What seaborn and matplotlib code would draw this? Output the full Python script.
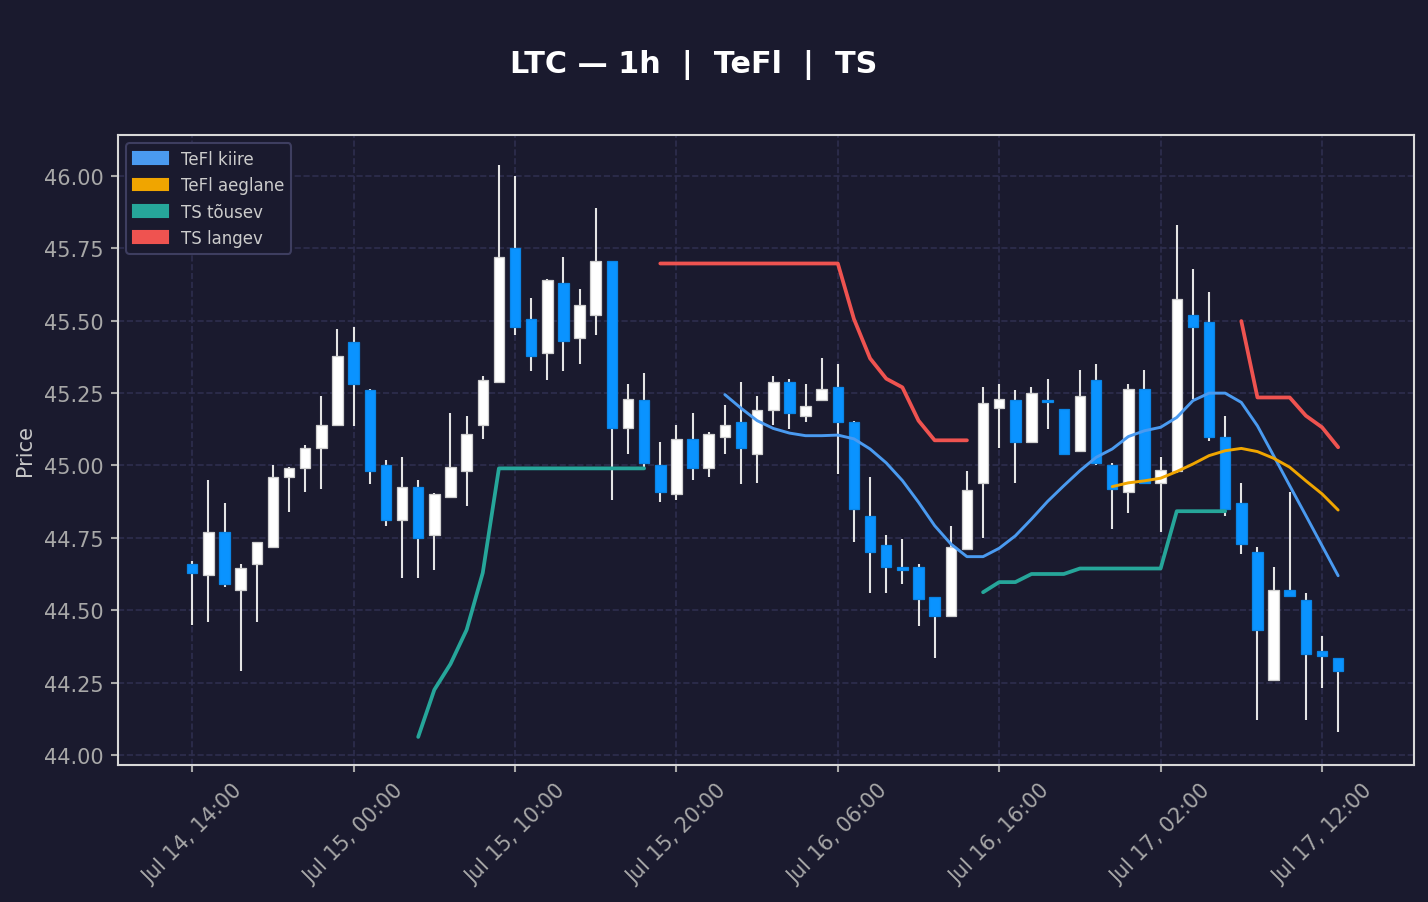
import numpy as np
import pandas as pd
import seaborn as sns
import matplotlib
matplotlib.use("Agg")
import matplotlib.pyplot as plt
from matplotlib.patches import Patch

nan = np.nan

# tunnised küünlad, LTC 1h
times = pd.date_range("2024-07-14 14:00", periods=72, freq="h")

opens = [44.66, 44.62, 44.77, 44.57, 44.66, 44.72, 44.96, 44.99, 45.06, 45.14,
         45.425, 45.26, 45.00, 44.81, 44.925, 44.76, 44.89, 44.98, 45.14, 45.29,
         45.75, 45.505, 45.39, 45.63, 45.44, 45.52, 45.705, 45.13, 45.225, 45.00,
         44.90, 45.09, 44.99, 45.10, 45.15, 45.04, 45.19, 45.29, 45.17, 45.228,
         45.27, 45.15, 44.825, 44.725, 44.65, 44.65, 44.545, 44.48, 44.71, 44.94,
         45.20, 45.225, 45.08, 45.225, 45.195, 45.05, 45.295, 45.00, 44.91, 45.263,
         44.94, 44.98, 45.52, 45.495, 45.10, 44.87, 44.70, 44.26, 44.57, 44.535,
         44.36, 44.335]
highs = [44.67, 44.95, 44.87, 44.66, 44.735, 45.00, 44.995, 45.07, 45.24, 45.47,
         45.48, 45.265, 45.02, 45.03, 44.95, 44.905, 45.18, 45.17, 45.31, 46.04,
         46.00, 45.58, 45.645, 45.72, 45.61, 45.89, 45.705, 45.28, 45.32, 45.08,
         45.14, 45.18, 45.115, 45.21, 45.29, 45.24, 45.31, 45.30, 45.28, 45.37,
         45.35, 45.155, 44.96, 44.76, 44.745, 44.66, 44.545, 44.79, 44.98, 45.27,
         45.28, 45.26, 45.27, 45.30, 45.195, 45.33, 45.35, 45.01, 45.28, 45.33,
         45.03, 45.83, 45.68, 45.60, 45.17, 44.94, 44.72, 44.65, 44.91, 44.56,
         44.41, 44.335]
lows = [44.45, 44.46, 44.58, 44.29, 44.46, 44.715, 44.84, 44.91, 44.92, 45.135,
        45.135, 44.935, 44.79, 44.61, 44.61, 44.64, 44.89, 44.86, 45.09, 45.285,
        45.45, 45.325, 45.295, 45.325, 45.35, 45.45, 44.88, 45.04, 44.995, 44.875,
        44.88, 44.95, 44.96, 45.04, 44.935, 44.94, 45.14, 45.125, 45.15, 45.224,
        44.97, 44.735, 44.56, 44.56, 44.59, 44.445, 44.335, 44.475, 44.71, 44.75,
        45.06, 44.94, 45.08, 45.125, 45.035, 45.05, 45.00, 44.78, 44.835, 44.94,
        44.77, 44.975, 45.23, 45.085, 44.825, 44.695, 44.12, 44.255, 44.545, 44.12,
        44.23, 44.08]
closes = [44.63, 44.77, 44.59, 44.645, 44.735, 44.96, 44.99, 45.06, 45.14, 45.38,
          45.28, 44.98, 44.81, 44.925, 44.75, 44.90, 44.995, 45.11, 45.295, 45.72,
          45.48, 45.38, 45.64, 45.43, 45.555, 45.705, 45.13, 45.23, 45.01, 44.91,
          45.09, 44.99, 45.11, 45.14, 45.06, 45.19, 45.29, 45.18, 45.205, 45.263,
          45.15, 44.85, 44.70, 44.65, 44.64, 44.54, 44.48, 44.72, 44.915, 45.215,
          45.23, 45.08, 45.25, 45.22, 45.04, 45.24, 45.01, 44.92, 45.263, 44.94,
          44.983, 45.574, 45.48, 45.10, 44.85, 44.73, 44.43, 44.57, 44.55, 44.35,
          44.34, 44.29]

# indikaatorid (nan = puudub)
tefl_kiire = [nan] * 33 + [
    45.245, 45.198, 45.155, 45.128, 45.112, 45.103, 45.103, 45.105, 45.092, 45.057,
    45.009, 44.948, 44.873, 44.792, 44.729, 44.685, 44.685, 44.714, 44.757, 44.815,
    44.876, 44.930, 44.982, 45.028, 45.057, 45.100, 45.120, 45.132, 45.166, 45.224,
    45.250, 45.250, 45.218, 45.137, 45.034, 44.930, 44.827, 44.723, 44.619]
tefl_aeglane = [nan] * 57 + [
    44.927, 44.940, 44.947, 44.956, 44.979, 45.005, 45.034, 45.051, 45.059, 45.048,
    45.025, 44.994, 44.947, 44.902, 44.846]
ts_tousev = [nan] * 14 + [44.062, 44.225, 44.314, 44.432, 44.629] + [44.99] * 10 \
    + [nan] * 20 + [44.562, 44.597, 44.597, 44.625, 44.625, 44.625, 44.644, 44.644,
                    44.644, 44.644, 44.644, 44.644, 44.842, 44.842, 44.842, 44.842] \
    + [nan] * 7
ts_langev = [nan] * 29 + [45.698] * 12 + [45.506, 45.37, 45.30, 45.27, 45.155,
                                          45.087, 45.087, 45.087] \
    + [nan] * 16 + [45.499, 45.235, 45.235, 45.235, 45.172, 45.132, 45.063]

bg = "#1a1a2e"
up_col = "#ffffff"
down_col = "#0a93ff"

sns.set_theme(style="dark", rc={"axes.facecolor": bg, "figure.facecolor": bg})
plt.rcParams['font.family'] = ['DejaVu Sans']

fig = plt.figure(figsize=(9.52, 6.02), dpi=150, facecolor=bg)
ax = fig.add_axes([118 / 1428, 1 - 766 / 903, (1414 - 118) / 1428, (766 - 136) / 903])
ax.set_facecolor(bg)

x = np.arange(len(times))
o = np.array(opens)
c = np.array(closes)
up = c >= o

# küünlad
ax.vlines(x, lows, highs, color="#e4e4e4", lw=1.0, zorder=2)
ax.bar(x, np.abs(c - o), bottom=np.minimum(o, c), width=0.65,
       color=np.where(up, up_col, down_col),
       edgecolor=np.where(up, "#cfcfcf", "#0a85e6"), lw=0.6, zorder=3)

# jooned seaborniga, lõigud eraldi
series = [
    ("TeFl kiire", tefl_kiire, "#4a9af0", 1.4),
    ("TeFl aeglane", tefl_aeglane, "#f0a500", 1.4),
    ("TS tõusev", ts_tousev, "#26a69a", 1.8),
    ("TS langev", ts_langev, "#ef5350", 1.8),
]
handles = []
for name, vals, col, lw in series:
    v = np.array(vals, dtype=float)
    seg = np.cumsum(np.isnan(v))
    df = pd.DataFrame({"x": x, "price": v, "seg": seg}).dropna()
    sns.lineplot(data=df, x="x", y="price", units="seg", estimator=None,
                 color=col, lw=lw, ax=ax, zorder=4)
    handles.append(Patch(facecolor=col, edgecolor=col, label=name))

ax.set_xlim(-4.6, 75.7)
ax.set_ylim(43.965, 46.142)
ax.set_xticks(x[::10])
ax.set_xticklabels(times[::10].strftime("%b %d, %H:%M"), rotation=45, ha="center")
ax.set_yticks(np.arange(44.0, 46.01, 0.25))
ax.set_yticklabels([f"{t:.2f}" for t in np.arange(44.0, 46.01, 0.25)])
ax.tick_params(axis="both", colors="#a8a8a8", labelsize=10, length=3.5, width=1,
               bottom=True, left=True)
ax.set_xlabel("")
ax.set_ylabel("Price", color="#c8c8c8", fontsize=10)
ax.grid(True, color="#2e2e4e", ls="--", lw=0.8)
for s in ax.spines.values():
    s.set_visible(True)
    s.set_color("#d8d8d8")
    s.set_linewidth(1.0)

leg = ax.legend(handles=handles, loc="upper left", fontsize=8, facecolor=bg,
                edgecolor="#3e3e60", framealpha=1, handlelength=2.1,
                borderaxespad=0.5)
for t in leg.get_texts():
    t.set_color("#cccccc")

fig.text(694 / 1428, 1 - 72.5 / 903, "LTC — 1h  |  TeFl  |  TS", color="white",
         fontsize=14.5, fontweight="bold", ha="center", va="baseline")

fig.savefig("out.png", dpi=150, facecolor=bg)
